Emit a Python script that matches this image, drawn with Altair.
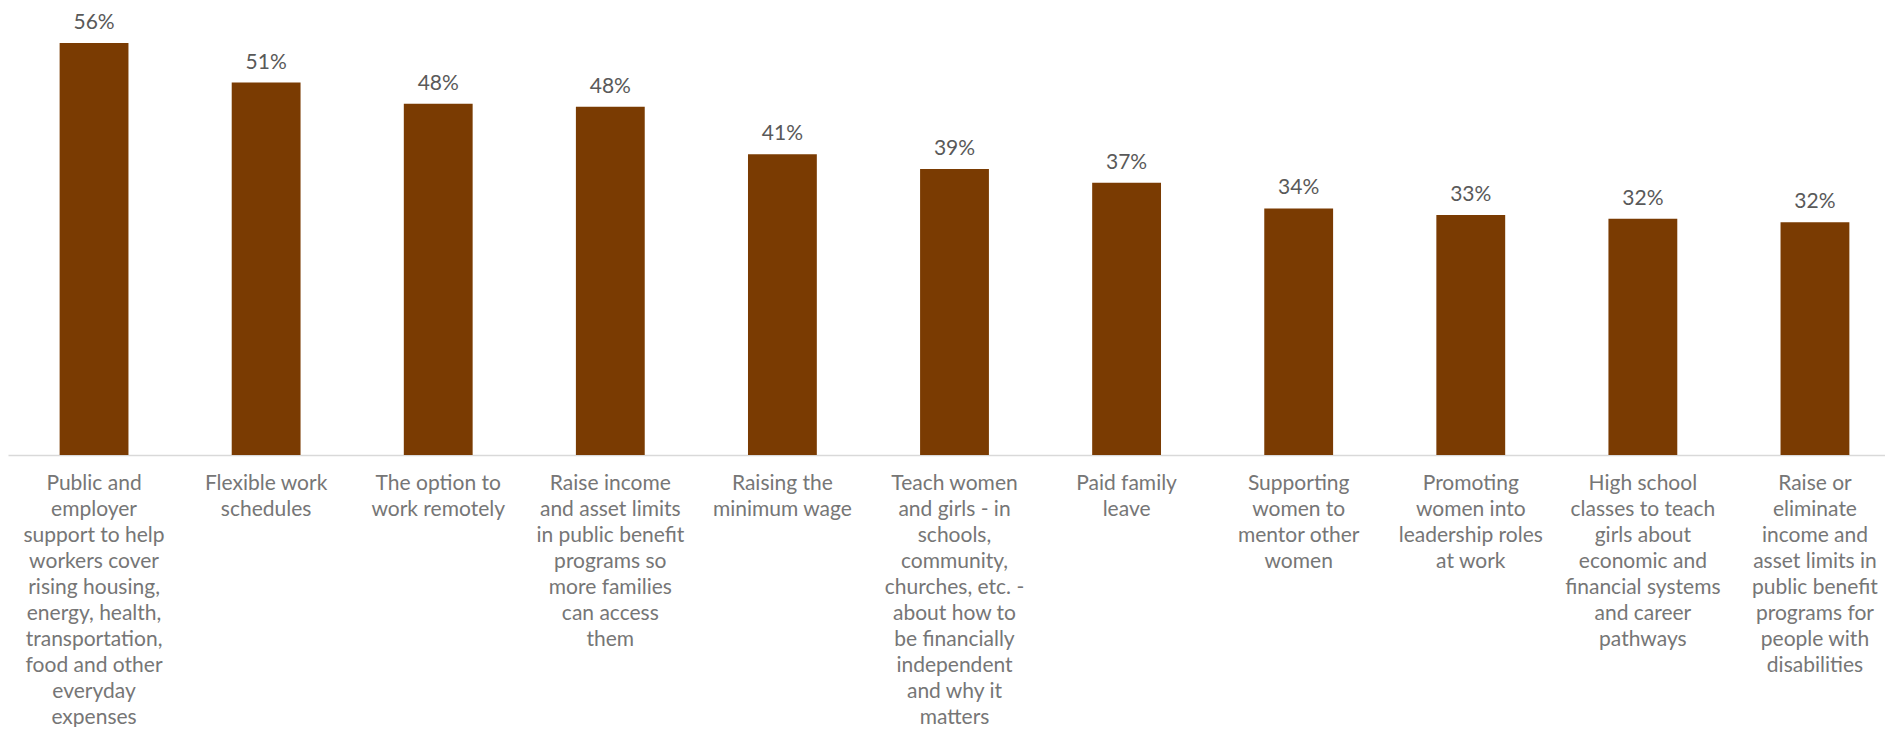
import altair as alt
import pandas as pd

# Category labels, wrapped as in the reference (one list entry per line)
category_lines = [
    ["Public and", "employer", "support to help", "workers cover", "rising housing,",
     "energy, health,", "transportation,", "food and other", "everyday", "expenses"],
    ["Flexible work", "schedules"],
    ["The option to", "work remotely"],
    ["Raise income", "and asset limits", "in public benefit", "programs so",
     "more families", "can access", "them"],
    ["Raising the", "minimum wage"],
    ["Teach women", "and girls - in", "schools,", "community,", "churches, etc. -",
     "about how to", "be financially", "independent", "and why it", "matters"],
    ["Paid family", "leave"],
    ["Supporting", "women to", "mentor other", "women"],
    ["Promoting", "women into", "leadership roles", "at work"],
    ["High school", "classes to teach", "girls about", "economic and",
     "financial systems", "and career", "pathways"],
    ["Raise or", "eliminate", "income and", "asset limits in", "public benefit",
     "programs for", "people with", "disabilities"],
]

# Share of respondents
shares = [0.563, 0.509, 0.480, 0.476, 0.411, 0.391, 0.372, 0.337, 0.328, 0.323, 0.318]

categories = ["|".join(lines) for lines in category_lines]

df = pd.DataFrame({"category": categories, "share": shares})

BAR = "#7A3B02"
FONT = "Lato"

x_enc = alt.X(
    "category:N",
    sort=None,
    title=None,
    scale=alt.Scale(paddingInner=0.6, paddingOuter=0.3, range=[0, 1893]),
    axis=alt.Axis(
        labelAngle=0,
        labelExpr="split(datum.label, '|')",
        labelFont=FONT,
        labelFontSize=21,
        labelLineHeight=26,
        labelColor="#767676",
        labelBaseline="top",
        labelPadding=17,
        labelLimit=0,
        labelAlign="center",
        ticks=False,
        domainColor="#D9D9D9",
        domainWidth=1.5,
        grid=False,
    ),
)

y_enc = alt.Y(
    "share:Q",
    title=None,
    scale=alt.Scale(domain=[0, 0.6], nice=False),
    axis=None,
)

bars = alt.Chart(df).mark_bar(color=BAR).encode(x=x_enc, y=y_enc)

labels = alt.Chart(df).mark_text(
    font=FONT, fontSize=21, color="#595959", baseline="middle", dy=-20
).encode(
    x=alt.X("category:N", sort=None),
    y=alt.Y("share:Q"),
    text=alt.Text("share:Q", format=".0%"),
)

chart = (
    alt.layer(bars, labels)
    .properties(
        width=1877,
        height=439,
        background="white",
        autosize=alt.AutoSizeParams(type="none"),
        padding={"left": 0, "top": 8, "right": 0, "bottom": 272},
    )
    .configure_view(strokeWidth=0, stroke="transparent")
)

chart.save("out.html", embed_options={"renderer": "svg", "actions": False})
